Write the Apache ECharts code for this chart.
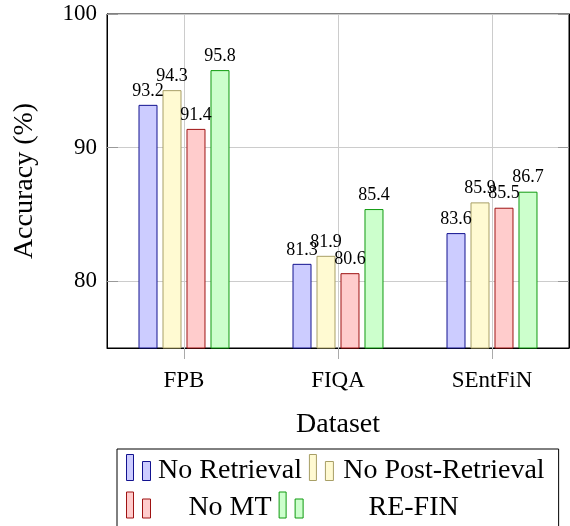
<!DOCTYPE html>
<html>
<head>
<meta charset="utf-8">
<script src="https://cdn.jsdelivr.net/npm/echarts@6/dist/echarts.min.js"></script>
<style>html,body{margin:0;padding:0;background:#fff}#c{width:570px;height:526px}</style>
</head>
<body>
<div id="c"></div>
<script>
const categories = ['FPB', 'FIQA', 'SEntFiN'];
const seriesNames = ['No Retrieval', 'No Post-Retrieval', 'No MT', 'RE-FIN'];
const noRetrieval = [93.2, 81.3, 83.6];
const noPostRetrieval = [94.3, 81.9, 85.9];
const noMT = [91.4, 80.6, 85.5];
const reFin = [95.8, 85.4, 86.7];
const yTicks = [80, 90, 100];

const values = [noRetrieval, noPostRetrieval, noMT, reFin];
const fills = ['#ccccff', '#fffad2', '#ffcccc', '#ccffcc'];
const borders = ['#12128f', '#a89f66', '#9e1212', '#0f9a0f'];
const FONT = '"Liberation Serif", "Times New Roman", serif';
const col1 = ['No Retrieval', 'No MT'];

const chart = echarts.init(document.getElementById('c'), null, {renderer: 'canvas'});
chart.setOption({
  animation: false,
  textStyle: {fontFamily: FONT, color: '#000'},
  grid: {left: 107, top: 14, right: 1, bottom: 178, show: true, borderColor: '#000', borderWidth: 1, containLabel: false},
  xAxis: {
    type: 'category',
    data: categories,
    name: 'Dataset',
    nameLocation: 'middle',
    nameGap: 63,
    nameTextStyle: {fontFamily: FONT, fontSize: 28, color: '#000'},
    axisLine: {show: true, lineStyle: {color: '#000', width: 1}},
    axisTick: {show: true, alignWithLabel: true, length: 11, lineStyle: {color: '#aaa'}},
    axisLabel: {fontFamily: FONT, fontSize: 23, color: '#000', margin: 21},
    splitLine: {show: true, alignWithLabel: true, lineStyle: {color: '#cccccc', width: 1}}
  },
  yAxis: [{
    type: 'value',
    min: 75,
    max: 100,
    name: 'Accuracy (%)',
    nameLocation: 'middle',
    nameGap: 68,
    nameRotate: 90,
    nameTextStyle: {fontFamily: FONT, fontSize: 28, color: '#000'},
    axisLine: {show: true, lineStyle: {color: '#000', width: 1}},
    axisTick: {show: true, inside: true, length: 11, customValues: yTicks, lineStyle: {color: '#999'}},
    axisLabel: {fontFamily: FONT, fontSize: 23, color: '#000', margin: 10, customValues: yTicks},
    splitLine: {show: true, lineStyle: {color: '#cccccc', width: 1}}
  }, {
    type: 'value',
    min: 75,
    max: 100,
    position: 'right',
    axisLine: {show: true, lineStyle: {color: '#000', width: 1}},
    axisTick: {show: true, inside: true, length: 11, customValues: yTicks, lineStyle: {color: '#999'}},
    axisLabel: {show: false, customValues: yTicks},
    splitLine: {show: false}
  }],
  legend: {
    data: seriesNames,
    left: 117,
    top: 449,
    width: 425,
    orient: 'horizontal',
    itemGap: 7,
    itemWidth: 24,
    itemHeight: 26,
    icon: 'path://M0,0h7v26h-7z M16,7h8v19h-8z',
    itemStyle: {borderWidth: 1},
    padding: [5, 14, 30, 9],
    borderColor: '#000',
    borderWidth: 1,
    formatter: function (name) {
      return (col1.indexOf(name) >= 0 ? '{a|' : '{b|') + name + '}';
    },
    textStyle: {
      fontFamily: FONT, fontSize: 28, color: '#000',
      rich: {
        a: {fontFamily: FONT, fontSize: 28, width: 145, align: 'center', padding: [6, 0, 0, 2]},
        b: {fontFamily: FONT, fontSize: 28, width: 207, align: 'center', padding: [6, 0, 0, 2]}
      }
    }
  },
  series: seriesNames.map((n, i) => ({
    name: n,
    type: 'bar',
    data: values[i],
    barWidth: 19,
    barGap: '26.3%',
    itemStyle: {color: fills[i], borderColor: borders[i], borderWidth: 1},
    label: {show: true, position: 'top', distance: 5, fontFamily: FONT, fontSize: 18, color: '#000'}
  }))
});
</script>
</body>
</html>
